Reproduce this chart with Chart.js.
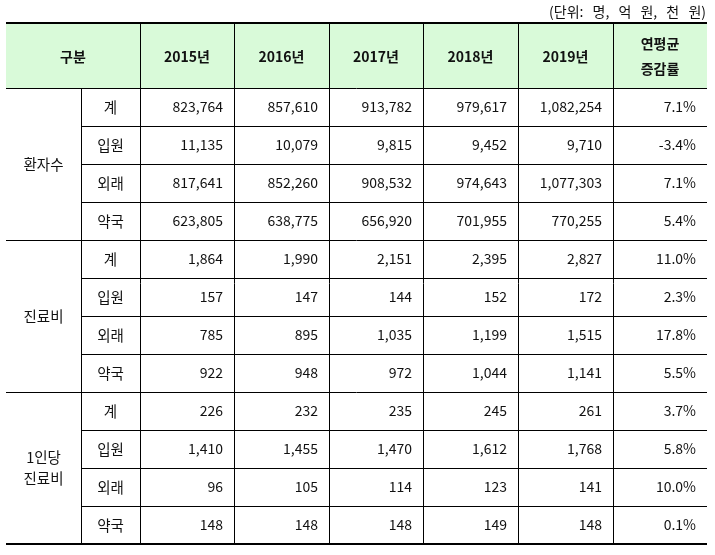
<!DOCTYPE html>
<html>
<head>
<meta charset="utf-8">
<script src="https://cdn.jsdelivr.net/npm/chart.js@4/dist/chart.umd.min.js"></script>
<style>
html,body{margin:0;padding:0;background:#fff;}
#wrap{width:715px;height:555px;position:relative;}
</style>
</head>
<body>
<div id="wrap"><canvas id="c" width="715" height="555"></canvas></div>
<script>
// ---- data ----
const unitNote = '(단위: 명, 억 원, 천 원)';
const headerFirst = '구분';
const years = ['2015년', '2016년', '2017년', '2018년', '2019년'];
const growthHeader = ['연평균', '증감률'];
const groups = [['환자수'], ['진료비'], ['1인당', '진료비']];
const subCategories = ['계', '입원', '외래', '약국'];
const v2015 = [823764, 11135, 817641, 623805, 1864, 157, 785, 922, 226, 1410, 96, 148];
const v2016 = [857610, 10079, 852260, 638775, 1990, 147, 895, 948, 232, 1455, 105, 148];
const v2017 = [913782, 9815, 908532, 656920, 2151, 144, 1035, 972, 235, 1470, 114, 148];
const v2018 = [979617, 9452, 974643, 701955, 2395, 152, 1199, 1044, 245, 1612, 123, 149];
const v2019 = [1082254, 9710, 1077303, 770255, 2827, 172, 1515, 1141, 261, 1768, 141, 148];
const growth = [7.1, -3.4, 7.1, 5.4, 11.0, 2.3, 17.8, 5.5, 3.7, 5.8, 10.0, 0.1];

// ---- layout (not data) ----
const colEdges = [6, 81, 140, 234, 329, 423, 518, 613, 707]; // x-scale units
const tableTopPx = 23, headerBottomPx = 88, rowPx = 38;
const cellPad = 11;
const FONT = '"Noto Sans CJK KR", "Noto Sans", sans-serif';
const HEADER_BG = '#d9fad9';
const TEXT = '#111';

const valueCols = [v2015, v2016, v2017, v2018, v2019];
const nRows = v2015.length;
const headerRows = (headerBottomPx - tableTopPx) / rowPx;

const fmtNum = v => v.toLocaleString('en-US');
const fmtPct = v => v.toFixed(1) + '%';

const datasets = valueCols.map((arr, i) => ({
  label: years[i],
  data: arr.map((v, r) => ({ x: colEdges[i + 3] - cellPad, y: r + 0.5, t: fmtNum(v) })),
  pointRadius: 0
}));
datasets.push({
  label: growthHeader.join(''),
  data: growth.map((v, r) => ({ x: colEdges[8] - cellPad, y: r + 0.5, t: fmtPct(v) })),
  pointRadius: 0
});

const tablePlugin = {
  id: 'tablePlugin',
  beforeDatasetsDraw(chart) {
    const c = chart.ctx, X = chart.scales.x, Y = chart.scales.y;
    const px = v => X.getPixelForValue(v);
    const py = v => Y.getPixelForValue(v);
    const L = px(colEdges[0]), R = px(colEdges[8]);
    const top = py(-headerRows), hb = py(0), bottom = py(nRows);
    c.save();
    // header background
    c.fillStyle = HEADER_BG;
    c.fillRect(L, top, R - L, hb - top);
    c.strokeStyle = '#000';
    const hline = (y, x0, x1, w) => { c.lineWidth = w; c.beginPath(); c.moveTo(x0, y); c.lineTo(x1, y); c.stroke(); };
    const vline = (x, y0, y1, w) => { c.lineWidth = w; c.beginPath(); c.moveTo(x, y0); c.lineTo(x, y1); c.stroke(); };
    // vertical lines
    for (let i = 2; i < 8; i++) vline(Math.round(px(colEdges[i])) + 0.5, top, bottom, 1);
    vline(Math.round(px(colEdges[1])) + 0.5, hb, bottom, 1);
    // horizontal lines
    hline(Math.round(hb) + 0.5, L, R, 1);
    for (let r = 1; r < nRows; r++) {
      const y = Math.round(py(r)) + 0.5;
      if (r % subCategories.length === 0) hline(y, L, R, 1);
      else hline(y, px(colEdges[1]), R, 1);
    }
    hline(Math.round(top), L, R, 2);
    hline(Math.round(bottom), L, R, 2);

    // header texts
    c.fillStyle = TEXT;
    c.textBaseline = 'middle';
    c.textAlign = 'center';
    c.font = 'bold 14px ' + FONT;
    const hMid = (top + hb) / 2 + 1;
    c.fillText(headerFirst, (px(colEdges[0]) + px(colEdges[2])) / 2, hMid);
    years.forEach((y, i) => c.fillText(y, (px(colEdges[i + 2]) + px(colEdges[i + 3])) / 2, hMid));
    const gx = (px(colEdges[7]) + px(colEdges[8])) / 2;
    c.fillText(growthHeader[0], gx, hMid - 12.5);
    c.fillText(growthHeader[1], gx, hMid + 12.5);

    // unit note
    c.font = '14px ' + FONT;
    c.textAlign = 'right';
    if ('wordSpacing' in c) c.wordSpacing = '6px';
    c.fillText(unitNote, R - 1, py(-headerRows) - 11);
    if ('wordSpacing' in c) c.wordSpacing = '0px';

    // group & sub labels
    c.textAlign = 'center';
    c.font = '14.5px ' + FONT;
    groups.forEach((g, gi) => {
      const mid = py(gi * subCategories.length + subCategories.length / 2);
      const cx = (px(colEdges[0]) + px(colEdges[1])) / 2;
      const lh = 21;
      g.forEach((line, li) => c.fillText(line, cx, mid + (li - (g.length - 1) / 2) * lh));
      subCategories.forEach((s, si) => {
        const r = gi * subCategories.length + si;
        c.fillText(s, (px(colEdges[1]) + px(colEdges[2])) / 2, py(r + 0.5));
      });
    });
    c.restore();
  },
  afterDatasetsDraw(chart) {
    const c = chart.ctx;
    c.save();
    c.fillStyle = TEXT;
    c.font = '14px ' + FONT;
    c.textAlign = 'right';
    c.textBaseline = 'middle';
    chart.data.datasets.forEach((ds, di) => {
      const meta = chart.getDatasetMeta(di);
      meta.data.forEach((el, j) => c.fillText(ds.data[j].t, el.x, el.y));
    });
    c.restore();
  }
};

new Chart(document.getElementById('c'), {
  type: 'scatter',
  data: { datasets },
  options: {
    responsive: false,
    animation: false,
    events: [],
    layout: { padding: 0 },
    plugins: { legend: { display: false }, tooltip: { enabled: false } },
    scales: {
      x: { type: 'linear', display: false, min: 0, max: 715 },
      y: { type: 'linear', display: false, reverse: true,
           min: -headerBottomPx / rowPx, max: (555 - headerBottomPx) / rowPx }
    }
  },
  plugins: [tablePlugin]
});
</script>
</body>
</html>
